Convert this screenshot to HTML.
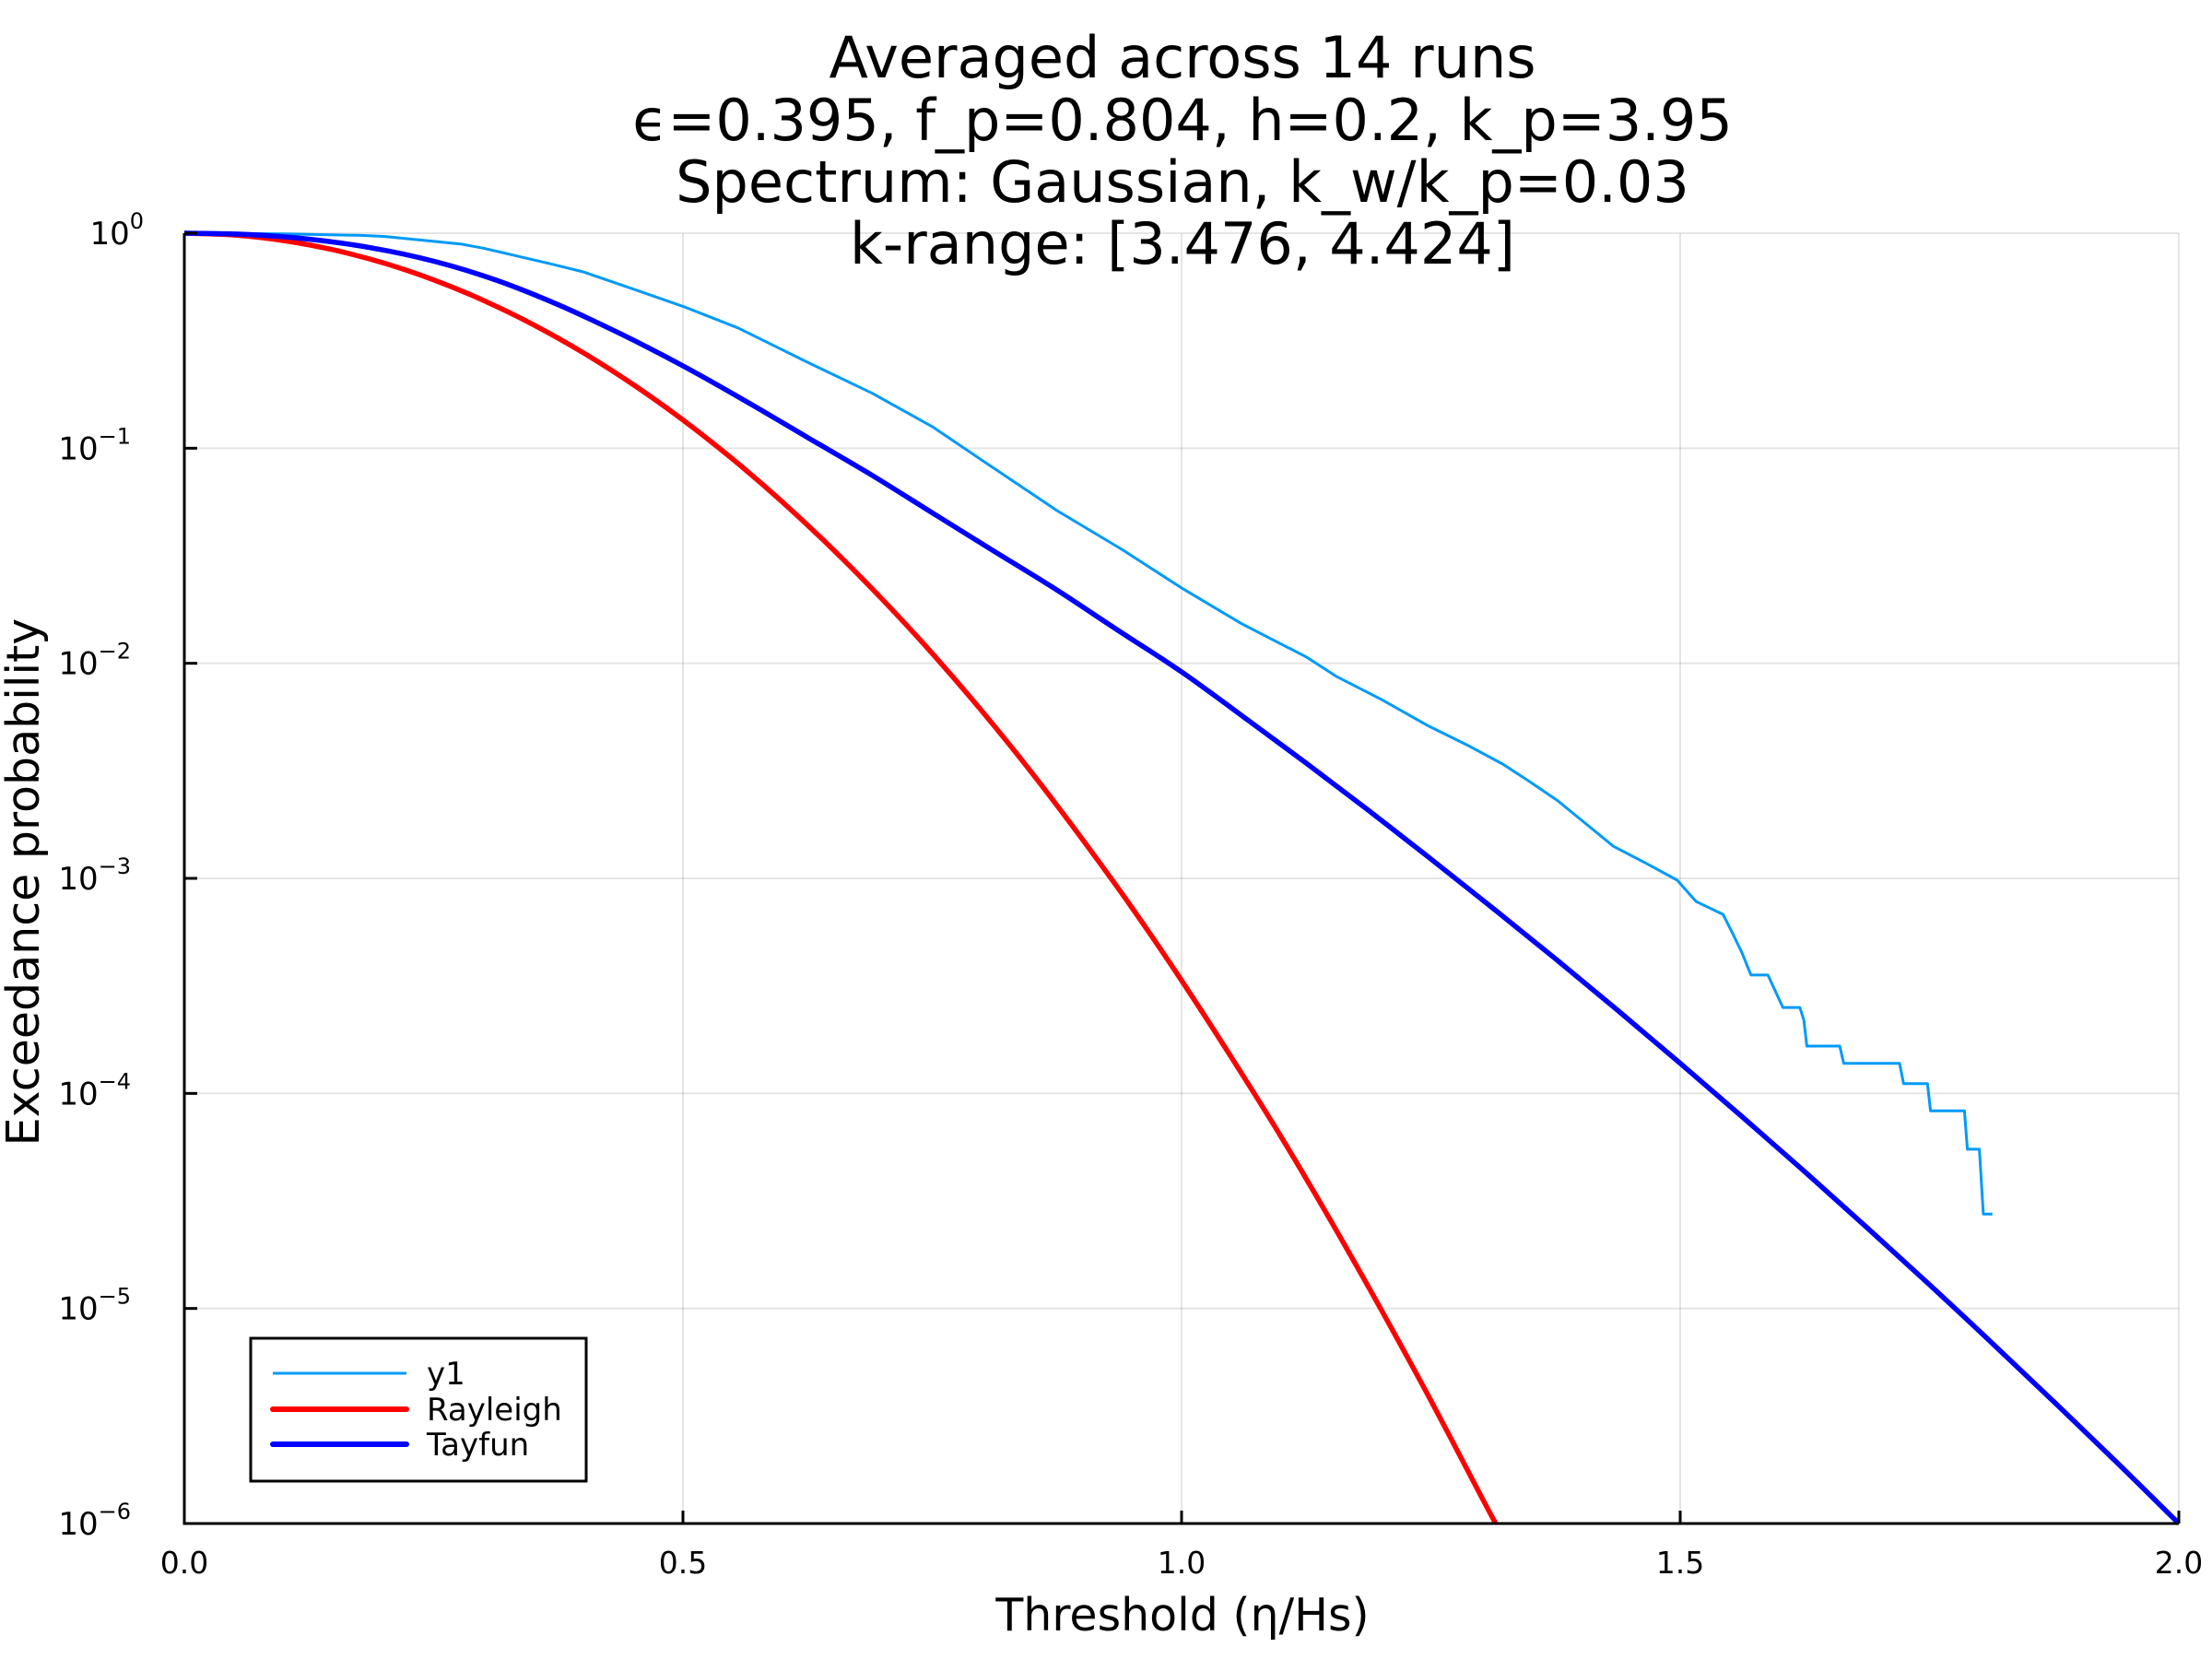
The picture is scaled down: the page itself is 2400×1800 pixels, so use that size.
<!DOCTYPE html>
<html><head><meta charset="utf-8"><style>
html,body{margin:0;padding:0;background:#fff}
svg{display:block;font-family:"DejaVu Sans","Liberation Sans",sans-serif}
</style></head><body>
<svg id="chart" width="2400" height="1800" viewBox="0 0 2400 1800" xmlns="http://www.w3.org/2000/svg">
<rect width="2400" height="1800" fill="#fff"/>
<g font-size="62" text-anchor="middle" fill="#000">
<text x="1283" y="84">Averaged across 14 runs</text>
<text x="1283" y="152">ϵ=0.395, f_p=0.804, h=0.2, k_p=3.95</text>
<text x="1283" y="219">Spectrum: Gaussian, k_w/k_p=0.03</text>
<text x="1283" y="286">k-range: [3.476, 4.424]</text>
</g>
<g id="grid"></g>
<g id="marks"></g>
<g id="axes"></g>
<text x="1283" y="1769" font-size="49" text-anchor="middle">Threshold (η/Hs)</text>
<text transform="translate(42,957) rotate(-90)" font-size="49" text-anchor="middle">Exceedance probability</text>
<g>
<rect x="272" y="1452" width="364" height="155" fill="#fff" stroke="#000" stroke-width="3"/>
<g><line x1="296" y1="1490" x2="441" y2="1490" stroke="#009af9" stroke-width="3"/><text x="463" y="1502" font-size="34">y1</text></g>
<g><line x1="296" y1="1529" x2="441" y2="1529" stroke="#ff0000" stroke-width="6" stroke-linecap="round"/><text x="463" y="1541" font-size="34">Rayleigh</text></g>
<g><line x1="296" y1="1567" x2="441" y2="1567" stroke="#0000ff" stroke-width="6" stroke-linecap="round"/><text x="463" y="1579" font-size="34">Tayfun</text></g>
</g>
</svg>
<script>
const xTicks=[0,0.5,1.0,1.5,2.0];
const xTickLabels=["0.0","0.5","1.0","1.5","2.0"];
const yTickExps=[0,-1,-2,-3,-4,-5,-6];
const rayleighX=[0,0.05,0.1,0.15,0.2,0.25,0.3,0.35,0.4,0.45,0.5,0.55,0.6,0.65,0.7,0.75,0.8,0.85,0.9,0.95,1.0,1.05,1.1,1.15,1.2,1.25,1.3,1.315];
const rayleighY=[1,0.9802,0.9231,0.8353,0.7261,0.6065,0.4868,0.3753,0.2780,0.1979,0.1353,0.0889,0.0561,0.0340,0.0198,0.01111,0.00598,0.00309,0.00153,7.33e-4,3.35e-4,1.47e-4,6.26e-5,2.54e-5,9.9e-6,3.73e-6,1.35e-6,1e-6];
const tayfunX=[0,0.0625,0.125,0.1875,0.25,0.3125,0.375,0.4375,0.5,0.5625,0.625,0.6875,0.75,0.8125,0.875,0.9375,1.0,1.0625,1.125,1.1875,1.25,1.3125,1.375,1.4375,1.5,1.5625,1.625,1.6875,1.75,1.8125,1.875,1.9375,2.0];
const tayfunY=[1,0.9863,0.9376,0.855,0.741,0.605,0.4645,0.3404,0.2415,0.166,0.1122,0.0759,0.0501,0.0331,0.0219,0.0141,0.00912,0.00562,0.00343,0.00207,0.00123,7.24e-4,4.22e-4,2.43e-4,1.38e-4,7.76e-5,4.32e-5,2.37e-5,1.29e-5,6.92e-6,3.67e-6,1.93e-6,1e-6];
const y1X=[0,0.1,0.177,0.2,0.277,0.3,0.37,0.4,0.45,0.5,0.555,0.625,0.69,0.75,0.81,0.875,0.94,1.0,1.06,1.125,1.155,1.2,1.248,1.285,1.322,1.35,1.377,1.405,1.433,1.465,1.497,1.516,1.543,1.553,1.562,1.571,1.588,1.603,1.620,1.624,1.627,1.660,1.664,1.720,1.724,1.748,1.751,1.785,1.788,1.800,1.804,1.813];
const y1Y=[1,0.993,0.977,0.966,0.891,0.851,0.716,0.661,0.55,0.457,0.363,0.251,0.18,0.126,0.0818,0.0513,0.0339,0.0224,0.0153,0.0107,0.0087,0.0068,0.0051,0.0042,0.0034,0.0028,0.0023,0.0018,0.00141,0.00118,0.00098,0.00078,0.00068,0.00055,0.00045,0.000355,0.000355,0.000251,0.000251,0.000219,0.000166,0.000166,0.000138,0.000138,0.000111,0.000111,8.3e-5,8.3e-5,5.5e-5,5.5e-5,2.75e-5,2.75e-5];
const X0=200,X1=2364,Y0=253,Y1=1653;
function sx(v){return X0+(v-0)/(2-0)*(X1-X0);}
function sy(p){return Y0+(0-Math.log10(p))/6*(Y1-Y0);}
const NS='http://www.w3.org/2000/svg';
function mk(tag,attrs,parent){const e=document.createElementNS(NS,tag);for(const k in attrs)e.setAttribute(k,attrs[k]);parent.appendChild(e);return e;}
const grid=document.getElementById('grid'),axes=document.getElementById('axes'),marks=document.getElementById('marks');
xTicks.forEach((t,i)=>{
 const g=mk('line',{x1:sx(t),x2:sx(t),y1:Y0,y2:Y1,stroke:'#000','stroke-opacity':0.1,'stroke-width':2},grid);
 
 
 const tk=mk('line',{x1:sx(t),x2:sx(t),y1:Y1,y2:Y1-14,stroke:'#000','stroke-width':3},axes);
 
 
 const tx=mk('text',{x:sx(t),y:Y1+54,'font-size':33,'text-anchor':'middle'},axes);
 tx.textContent=xTickLabels[i];
 
 
});
yTickExps.forEach(e=>{
 const y=sy(Math.pow(10,e));
 const g=mk('line',{x1:X0,x2:X1,y1:y,y2:y,stroke:'#000','stroke-opacity':0.1,'stroke-width':2},grid);
 
 
 const tk=mk('line',{x1:X0,x2:X0+14,y1:y,y2:y,stroke:'#000','stroke-width':3},axes);
 
 
 const tx=mk('text',{x:168,y:y+12,'font-size':34,'text-anchor':'end'},axes);
 
 
 tx.textContent='10';
 const sp=mk('tspan',{dy:-17,'font-size':24},tx);
 sp.textContent=(e<0?'\u2212'+(-e):String(e));
 tx.setAttribute('x',170-sp.textContent.length*14);
});
const ax=mk('path',{d:`M${X0} ${Y0} L${X0} ${Y1} L${X1} ${Y1}`,fill:'none',stroke:'#000','stroke-width':3},axes);


function smoothPath(pts){
 let d='M'+pts[0][0].toFixed(1)+' '+pts[0][1].toFixed(1);
 for(let i=0;i<pts.length-1;i++){
  const p0=pts[Math.max(0,i-1)],p1=pts[i],p2=pts[i+1],p3=pts[Math.min(pts.length-1,i+2)];
  const c1=[p1[0]+(p2[0]-p0[0])/6,p1[1]+(p2[1]-p0[1])/6];
  const c2=[p2[0]-(p3[0]-p1[0])/6,p2[1]-(p3[1]-p1[1])/6];
  d+=` C${c1[0].toFixed(1)} ${c1[1].toFixed(1)} ${c2[0].toFixed(1)} ${c2[1].toFixed(1)} ${p2[0].toFixed(1)} ${p2[1].toFixed(1)}`;
 }
 return d;
}
function line(xs,ys,color,w,name,smooth){
 const pts=xs.map((x,i)=>[sx(x),sy(ys[i])]);
 const d=smooth?smoothPath(pts):pts.map((p,i)=>(i?'L':'M')+p[0].toFixed(1)+' '+p[1].toFixed(1)).join(' ');
 const p=mk('path',{d:d,fill:'none',stroke:color,'stroke-width':w,'stroke-linejoin':'round'},marks);
 
 
}
line(y1X,y1Y,'#009af9',3,'y1-line',false);
line(rayleighX,rayleighY,'#ff0000',5.5,'rayleigh-line',true);
line(tayfunX,tayfunY,'#0000ff',5.5,'tayfun-line',true);
</script>
</body></html>
